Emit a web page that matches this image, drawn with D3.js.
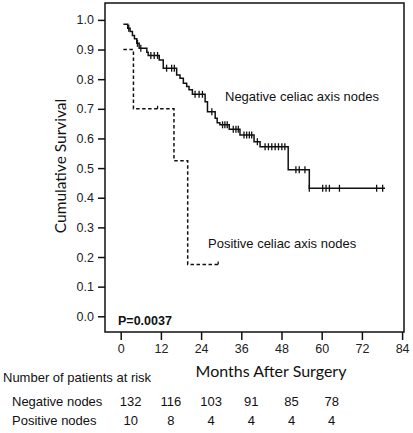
<!DOCTYPE html>
<html>
<head>
<meta charset="utf-8">
<script src="https://cdn.jsdelivr.net/npm/d3@7"></script>
<style>
  body { margin: 0; background: #fff; }
  svg { display: block; }
</style>
</head>
<body>
<svg id="chart" width="413" height="433"></svg>
<script>
// ---------- data ----------
const xTicks = [0, 12, 24, 36, 48, 60, 72, 84];
const yTicks = [0.0, 0.1, 0.2, 0.3, 0.4, 0.5, 0.6, 0.7, 0.8, 0.9, 1.0];

// Negative celiac axis nodes: step times and survival after each step
const negTimes = [0.8, 2.1, 2.8, 3.5, 4.1, 4.8, 5.5, 7.8, 8.2, 11.5, 12.7, 16.7, 17.7, 18.7, 19.7, 20.4, 21.4, 25.2, 25.9, 28.2, 28.8, 29.6, 32.4, 35.6, 39.8, 41.6, 50.0, 56.3];
const negSurv  = [0.985, 0.972, 0.961, 0.947, 0.936, 0.921, 0.904, 0.891, 0.880, 0.865, 0.837, 0.814, 0.803, 0.786, 0.775, 0.764, 0.749, 0.724, 0.690, 0.668, 0.653, 0.646, 0.631, 0.612, 0.589, 0.572, 0.494, 0.432];
const negEnd = 78.9;
const negCensor = [2.4, 5.0, 6.0, 9.0, 10.0, 11.0, 13.7, 15.2, 16.0, 22.2, 23.4, 24.4, 27.2, 30.4, 31.1, 31.8, 33.6, 34.4, 35.1, 36.8, 37.6, 38.4, 39.1, 40.8, 43.1, 44.1, 45.1, 46.1, 47.1, 48.1, 49.0, 52.3, 53.3, 55.0, 56.3, 60.3, 61.3, 62.3, 65.3, 76.4, 78.2];

// Positive celiac axis nodes
const posTimes = [0.8, 3.8, 15.9, 20.0];
const posSurv  = [0.90, 0.70, 0.525, 0.175];
const posEnd = 29.1;
const posCensor = [11.0, 29.1];

// Numbers at risk
const riskTimes = [0, 12, 24, 36, 48, 60];
const riskNeg = [132, 116, 103, 91, 85, 78];
const riskPos = [10, 8, 4, 4, 4, 4];

// ---------- drawing ----------
const svg = d3.select("#chart");
const ink = "#111";
const pLeft = 105, pRight = 404, pTop = 3, pBottom = 332;

const x = d3.scaleLinear().domain([-4.69, 84.57]).range([pLeft, pRight]);
const y = d3.scaleLinear().domain([-0.053, 1.057]).range([pBottom, pTop]);

// frame
svg.append("rect")
  .attr("x", pLeft).attr("y", pTop)
  .attr("width", pRight - pLeft).attr("height", pBottom - pTop)
  .attr("fill", "none").attr("stroke", ink).attr("stroke-width", 1.5);

// axes
const yAxis = d3.axisLeft(y).tickValues(yTicks).tickFormat(d3.format(".1f")).tickSize(7).tickPadding(4);
const gy = svg.append("g").attr("transform", `translate(${pLeft},0)`).call(yAxis);
const xAxis = d3.axisBottom(x).tickValues(xTicks).tickFormat(d3.format("d")).tickSize(8).tickPadding(4);
const gx = svg.append("g").attr("transform", `translate(0,${pBottom})`).call(xAxis);
[gy, gx].forEach(g => {
  g.select(".domain").remove();
  g.selectAll(".tick line").attr("stroke", ink).attr("stroke-width", 1.5);
  g.selectAll(".tick text").attr("fill", "#222")
    .style("font-family", "'Liberation Sans', Arial, sans-serif").style("font-size", "12.5px");
});

function stepPoints(times, surv, end) {
  const pts = [];
  for (let i = 0; i < times.length; i++) pts.push([times[i], surv[i]]);
  pts.push([end, surv[surv.length - 1]]);
  return pts;
}
function survAt(times, surv, t) {
  let s = surv[0];
  for (let i = 0; i < times.length; i++) if (times[i] <= t) s = surv[i];
  return s;
}
const lineStep = d3.line().x(d => x(d[0])).y(d => y(d[1])).curve(d3.curveStepAfter);

svg.append("path")
  .datum(stepPoints(negTimes, negSurv, negEnd))
  .attr("d", lineStep)
  .attr("fill", "none").attr("stroke", ink).attr("stroke-width", 1.5);

svg.append("path")
  .datum(stepPoints(posTimes, posSurv, posEnd))
  .attr("d", lineStep)
  .attr("fill", "none").attr("stroke", ink).attr("stroke-width", 1.5)
  .attr("stroke-dasharray", "3.5,2.5");

// censor marks
svg.append("g").selectAll("line").data(negCensor).join("line")
  .attr("x1", d => x(d)).attr("x2", d => x(d))
  .attr("y1", d => y(survAt(negTimes, negSurv, d)) - 3.5)
  .attr("y2", d => y(survAt(negTimes, negSurv, d)) + 3.5)
  .attr("stroke", ink).attr("stroke-width", 1.3);

svg.append("g").selectAll("line").data(posCensor).join("line")
  .attr("x1", d => x(d)).attr("x2", d => x(d))
  .attr("y1", d => y(survAt(posTimes, posSurv, d)) - 3)
  .attr("y2", d => y(survAt(posTimes, posSurv, d)))
  .attr("stroke", ink).attr("stroke-width", 1.3);

// annotations
const arial = "'Liberation Sans', Arial, sans-serif";
const cal = "Lato, 'Open Sans', sans-serif";
svg.append("text").attr("x", 225).attr("y", 101)
  .style("font-family", arial).style("font-size", "13px").attr("fill", ink)
  .text("Negative celiac axis nodes");
svg.append("text").attr("x", 208).attr("y", 248)
  .style("font-family", arial).style("font-size", "13px").attr("fill", ink)
  .text("Positive celiac axis nodes");
svg.append("text").attr("x", 118).attr("y", 325)
  .style("font-family", arial).style("font-size", "12.5px").style("font-weight", "bold").attr("fill", ink)
  .text("P=0.0037");

// axis titles
svg.append("text")
  .attr("transform", "translate(66,166) rotate(-90)")
  .attr("text-anchor", "middle")
  .style("font-family", cal).style("font-size", "15.5px").attr("fill", ink)
  .text("Cumulative Survival");
svg.append("text").attr("x", 271).attr("y", 377)
  .attr("text-anchor", "middle")
  .style("font-family", cal).style("font-size", "16px").attr("fill", ink)
  .text("Months After Surgery");

// risk table
svg.append("text").attr("x", 3).attr("y", 382)
  .style("font-family", arial).style("font-size", "13px").attr("fill", ink)
  .text("Number of patients at risk");
svg.append("text").attr("x", 12).attr("y", 406)
  .style("font-family", arial).style("font-size", "13px").attr("fill", ink)
  .text("Negative nodes");
svg.append("text").attr("x", 12).attr("y", 425)
  .style("font-family", arial).style("font-size", "13px").attr("fill", ink)
  .text("Positive nodes");
svg.append("g").selectAll("text").data(riskNeg).join("text")
  .attr("x", (d, i) => x(riskTimes[i]) + 10).attr("y", 406)
  .attr("text-anchor", "middle")
  .style("font-family", arial).style("font-size", "13px").attr("fill", ink)
  .text(d => d);
svg.append("g").selectAll("text").data(riskPos).join("text")
  .attr("x", (d, i) => x(riskTimes[i]) + 10).attr("y", 425)
  .attr("text-anchor", "middle")
  .style("font-family", arial).style("font-size", "13px").attr("fill", ink)
  .text(d => d);
</script>
</body>
</html>
